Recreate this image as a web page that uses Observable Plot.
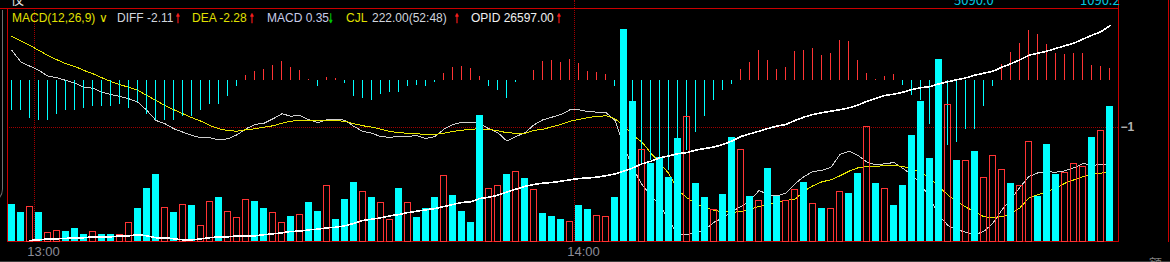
<!DOCTYPE html>
<html><head><meta charset="utf-8">
<script src="https://cdn.jsdelivr.net/npm/d3@7"></script>
<script src="https://cdn.jsdelivr.net/npm/@observablehq/plot@0.6"></script>
<style>
html,body{margin:0;padding:0;background:#000;overflow:hidden;}
#chart{position:relative;width:1170px;height:262px;background:#000;overflow:hidden;font-family:"Liberation Sans",Arial,sans-serif;}
#chart > svg{position:absolute;left:0;top:0;}
.deco{position:absolute;}
</style></head><body><div id="chart"></div>
<script>
// ---- tick labels (x axis: bar index boundaries at 13:00 / 14:00) ----
const timeTickIdx = [2.5, 62.5];
const timeLabels = ["13:00", "14:00"];
const macdTicks = [-1];

// ---- CJL volume per 1-minute bar (3 morning bars + 120 afternoon bars) ----
const vol = [61,48,56,48,14,17,16,21,11,15, 11,11,10,30,54,87,111,55,47,60,
  59,25,65,72,48,38,68,65,55,47, 30,41,44,64,49,91,36,69,97,81,
  72,63,35,87,63,39,55,73,107,75, 50,31,207,86,92,111,115,103,84,46,
  41,36,32,59,52,42,40,72,349,230, 151,128,138,105,169,204,95,72,51,77,
  171,150,74,66,120,74,66,84,97,61, 54,53,82,79,112,189,95,87,59,92,
  174,230,137,299,225,133,132,148,104,141, 118,95,92,163,74,160,110,113,128,122,
  171,181,222];
// r = up bar (hollow red), c = down bar (solid cyan)
const updown = ("ccrcrrcccr"+"ccrrcccrcr"+"crrcrrrccr"+"rcrccrcccr"+"crrcrcccrc"+
  "cccrrcrcrc"+"ccrccrrccc"+"rccccrccrc"+"crcrccrrcr"+"crrccrcrcc"+
  "ccccrcrcrr"+"rcrrcccrrr"+"crc").split("");

// ---- MACD histogram ----
const hist = [-0.624,-0.645,-0.817,-0.860,-0.860,-0.731,-0.645,-0.645,-0.581,-0.559,
  -0.538,-0.538,-0.495,-0.581,-0.473,-0.710,-0.860,-0.860,-0.860,-0.774,
  -0.753,-0.645,-0.495,-0.516,-0.344,-0.108,0.108,0.204,0.247,0.333,
  0.419,0.280,0.226,0.032,-0.108,0.075,0.054,-0.054,-0.344,-0.366,
  -0.430,-0.301,-0.237,-0.258,-0.108,-0.097,-0.129,-0.043,0.161,0.290,
  0.312,0.269,0.10,-0.108,-0.204,-0.366,-0.032,0.011,0.226,0.409,
  0.441,0.398,0.462,0.366,0.204,0.172,0.140,-0.118,-0.968,-1.505,
  -1.817,-1.710,-1.785,-1.925,-1.892,-1.495,-1.118,-0.753,-0.430,-0.194,
  -0.086,0.247,0.398,0.656,0.441,0.247,0.290,0.634,0.656,0.699,
  0.548,0.591,0.871,0.849,0.441,0.161,0.022,0.097,0.140,-0.097,
  -0.312,-0.419,-0.935,-1.247,-1.387,-1.333,-1.043,-1.043,-0.559,-0.129,
  0.355,0.613,0.806,1.086,1.000,0.785,0.591,0.570,0.591,0.591,
  0.333,0.312,0.258];

// ---- DIFF line ----
const diff = [0.656,0.404,0.318,0.226,0.103,0.069,0.011,-0.047,-0.133,-0.155,
  -0.241,-0.290,-0.333,-0.383,-0.456,-0.634,-0.849,-0.920,-1.028,-1.101,
  -1.172,-1.222,-1.222,-1.265,-1.243,-1.157,-1.028,-0.935,-0.908,-0.813,
  -0.705,-0.757,-0.742,-0.834,-0.899,-0.828,-0.822,-0.843,-0.978,-1.086,
  -1.123,-1.200,-1.209,-1.194,-1.187,-1.178,-1.237,-1.194,-1.037,-0.935,
  -0.886,-0.886,-0.920,-1.028,-1.114,-1.295,-1.194,-1.114,-0.942,-0.834,
  -0.778,-0.720,-0.619,-0.619,-0.656,-0.671,-0.680,-0.849,-1.400,-1.882,
  -2.226,-2.462,-2.677,-3.000,-3.308,-3.301,-3.265,-3.200,-3.037,-2.942,
  -2.806,-2.699,-2.570,-2.355,-2.441,-2.473,-2.413,-2.211,-2.054,-1.946,
  -1.925,-1.854,-1.581,-1.510,-1.602,-1.746,-1.806,-1.781,-1.753,-1.882,
  -2.017,-2.211,-2.533,-2.892,-3.108,-3.200,-3.252,-3.308,-3.230,-3.058,
  -2.770,-2.542,-2.284,-2.054,-1.974,-1.953,-1.961,-1.931,-1.867,-1.774,
  -1.811,-1.802,-1.781];

// ---- DEA line ----
const dea = [0.957,0.856,0.763,0.656,0.548,0.456,0.370,0.312,0.226,0.155,
  0.069,-0.011,-0.082,-0.133,-0.204,-0.312,-0.419,-0.527,-0.619,-0.705,
  -0.791,-0.865,-0.957,-1.028,-1.065,-1.080,-1.049,-1.028,-0.994,-0.963,
  -0.908,-0.865,-0.849,-0.856,-0.856,-0.849,-0.856,-0.865,-0.920,-0.963,
  -0.994,-1.037,-1.086,-1.114,-1.123,-1.135,-1.151,-1.151,-1.123,-1.086,
  -1.058,-1.037,-1.028,-1.043,-1.071,-1.114,-1.123,-1.123,-1.065,-1.037,
  -0.985,-0.935,-0.865,-0.828,-0.785,-0.763,-0.748,-0.813,-0.957,-1.172,
  -1.316,-1.553,-1.768,-1.996,-2.355,-2.512,-2.641,-2.714,-2.785,-2.813,
  -2.822,-2.813,-2.757,-2.699,-2.662,-2.598,-2.570,-2.542,-2.370,-2.254,
  -2.168,-2.125,-2.039,-1.940,-1.867,-1.839,-1.832,-1.824,-1.817,-1.839,
  -1.888,-1.968,-2.097,-2.269,-2.456,-2.585,-2.714,-2.813,-2.920,-2.935,
  -2.920,-2.849,-2.727,-2.512,-2.447,-2.376,-2.305,-2.198,-2.125,-2.054,
  -2.011,-1.983,-1.953];

// ---- OPID (open interest) ----
const opid = [null,null,25166,25170,25177,25177,25180,25184,25184,25190,
  25190,25190,25197,25197,25204,25197,25184,25184,25177,25170,
  25170,25177,25184,25190,25190,25197,25197,25197,25204,25210,
  25217,25226,25228,25237,25241,25250,25254,25264,25280,25299,
  25308,25317,25330,25339,25352,25361,25370,25379,25392,25406,
  25419,25424,25446,25454,25468,25490,25508,25526,25539,25548,
  25552,25561,25570,25579,25582,25588,25597,25610,25628,25650,
  25677,25694,25717,25730,25744,25752,25768,25779,25789,25806,
  25829,25859,25877,25894,25912,25928,25939,25966,25988,26006,
  26017,26028,26037,26050,26068,26094,26114,26132,26141,26154,
  26172,26184,26192,26210,26224,26237,26250,26268,26281,26294,
  26321,26344,26370,26401,26414,26428,26446,26464,26481,26508,
  26534,26557,26597];

// ---- header legend ----
const legendText = ["MACD(12,26,9)", "\u2228", "DIFF -2.11", "\u2191", "DEA -2.28", "\u2191",
  "MACD 0.35", "\u2193", "CJL", "222.00(52:48)", "\u2191", "OPID 26597.00", "\u2191"];
const legendColor = ["#e0e000","#e0e000","#d2d6de","#ff2020","#e0e000","#ff2020",
  "#c8cce8","#00d000","#e0e000","#d2d6de","#ff2020","#f0f0f0","#ff2020"];
const legendX = [12, 99, 117, 175, 192, 249, 267, 328, 346, 372, 454, 471, 556];

// partially visible texts at the window edges
const edgeText = ["仪", "5090.0", "1090.2", "额"];
const edgeColor = ["#e8e8e8", "#00c8e0", "#00c8e0", "#808080"];
const edgeX = [11, 954, 1080, 1149];
const edgeY = [4, 4.5, 4.5, 268];

// ---------------------------------------------------------------------------
const rows = vol.map((v, i) => ({i, vol: v, up: updown[i] === "r",
  hist: hist[i], diff: diff[i], dea: dea[i], opid: opid[i]}));

const W = 1170, H = 262;
const common = {
  width: W, height: H,
  marginLeft: 7, marginRight: 52, marginTop: 8, marginBottom: 21,
  x: {domain: [-0.5, 122.944], axis: null},
  style: {background: "transparent", fontFamily: "'Liberation Sans', Arial, sans-serif", overflow: "visible"}
};
const barHalf = 3.5 / 9, hollowHalf = 3 / 9;
const RED = "#ff3434", CYAN = "#00ffff", FRAME = "#c80000", DOT = "#a00000";
const crisp = {shapeRendering: "crispEdges"};

const macdPlot = Plot.plot({
  ...common,
  y: {domain: [-3.452, 1.559], axis: null},
  marks: [
    Plot.ruleX(timeTickIdx, {stroke: DOT, strokeDasharray: "1,1", ...crisp}),
    Plot.ruleY([-1], {stroke: DOT, strokeDasharray: "1,1", ...crisp}),
    Plot.frame({stroke: FRAME, ...crisp}),
    Plot.axisX(timeTickIdx, {tickSize: 0, tickPadding: 5, dx: 9, label: null,
      tickFormat: d => timeLabels[timeTickIdx.indexOf(d)], fill: "#8c8c98", fontSize: 13}),
    Plot.axisY(macdTicks, {anchor: "right", tickSize: 0, tickPadding: 2, label: null,
      fill: "#b4b4b4", fontSize: 12, fontWeight: "bold"}),
    Plot.line(rows, {x: "i", y: "diff", stroke: "#cfcfcf", strokeWidth: 1, ...crisp}),
    Plot.line(rows, {x: "i", y: "dea", stroke: "#e6e600", strokeWidth: 1, ...crisp}),
    Plot.ruleX(rows.filter(d => d.hist >= 0), {x: "i", y1: 0, y2: "hist", stroke: RED, strokeWidth: 1, dx: -0.5, ...crisp}),
    Plot.ruleX(rows.filter(d => d.hist < 0), {x: "i", y1: 0, y2: "hist", stroke: CYAN, strokeWidth: 1, dx: -0.5, ...crisp})
  ]
});

const volPlot = Plot.plot({
  ...common,
  y: {domain: [0, 383.2], axis: null},
  marks: [
    Plot.rect(rows.filter(d => !d.up), {x1: d => d.i - barHalf, x2: d => d.i + barHalf,
      y1: 0, y2: "vol", fill: CYAN, ...crisp}),
    Plot.rect(rows.filter(d => d.up), {x1: d => d.i - hollowHalf, x2: d => d.i + hollowHalf,
      y1: 0, y2: "vol", fill: "none", stroke: RED, strokeWidth: 1, ...crisp})
  ]
});

const opidPlot = Plot.plot({
  ...common,
  y: {domain: [25159, 26712], axis: null},
  marks: [
    Plot.line(rows, {x: "i", y: "opid", stroke: "#ffffff", strokeWidth: 1.6, ...crisp})
  ]
});

const chart = document.getElementById("chart");
// decorations (window chrome)
function deco(style) { const d = document.createElement("div"); d.className = "deco"; Object.assign(d.style, style); chart.appendChild(d); }
deco({left: "-20px", top: "10px", width: "22px", height: "192px", borderRight: "1px solid #707070", borderBottom: "1px solid #707070", borderBottomRightRadius: "14px"});
deco({left: "0px", top: "261px", width: "1170px", height: "1px", background: "#3c3c3c"});

chart.appendChild(macdPlot);
chart.appendChild(volPlot);
chart.appendChild(opidPlot);

deco({left: "0px", top: "8px", width: "8px", height: "1px", background: FRAME});
deco({left: "1118px", top: "0px", width: "1px", height: "9px", background: FRAME});
deco({left: "1168px", top: "0px", width: "1px", height: "242px", background: FRAME});
deco({left: "574px", top: "0px", width: "0px", height: "8px", borderLeft: "1px dotted " + DOT});

// header legend + edge texts as an SVG overlay
const ov = d3.select(chart).append("svg").attr("width", W).attr("height", H)
  .style("font-family", "'Liberation Sans', Arial, sans-serif");
legendText.forEach((t, k) => {
  const isArrow = t === "\u2191" || t === "\u2193";
  const el = ov.append("text").attr("x", legendX[k]).attr("y", 22)
    .attr("fill", legendColor[k]).attr("font-size", 12).text(t);
  if (isArrow) {
    el.attr("font-size", 13).attr("font-family", "'DejaVu Sans', sans-serif").attr("y", 23)
      .attr("stroke", legendColor[k]).attr("stroke-width", 0.6)
      .attr("transform", `translate(${legendX[k]},0) scale(0.5,1) translate(${-legendX[k]},0)`);
  }
  if (t === "\u2228") el.attr("font-size", 12).attr("font-family", "'DejaVu Sans', sans-serif");
});
edgeText.forEach((t, k) => {
  ov.append("text").attr("x", edgeX[k]).attr("y", edgeY[k]).attr("fill", edgeColor[k])
    .attr("font-size", 13).attr("font-family", "'Noto Sans CJK SC', 'Liberation Sans', sans-serif").text(t);
});
</script>
</body></html>
